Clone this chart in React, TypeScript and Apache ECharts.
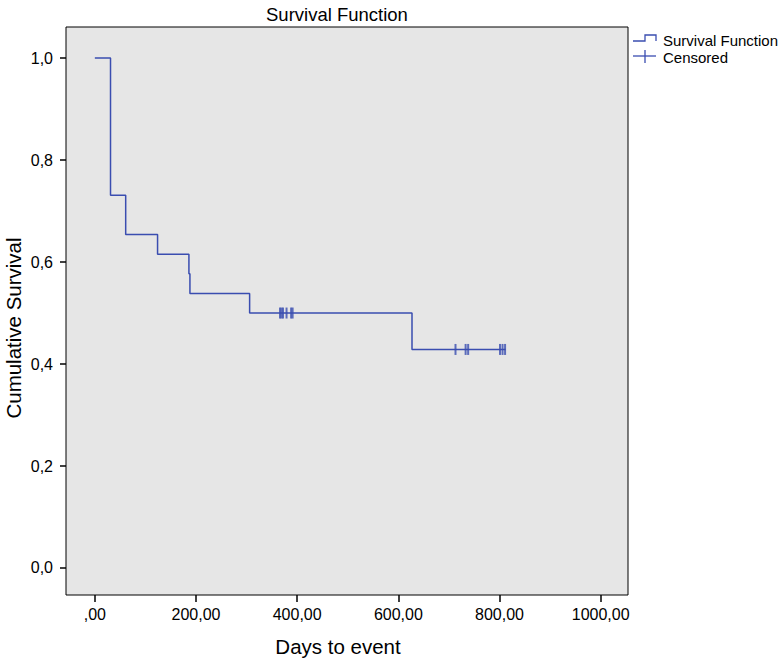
import React, { useEffect, useRef } from "react";
import * as echarts from "echarts";

// Kaplan-Meier step points (day, cumulative survival)
const eventDays = [0, 31, 61, 124, 186, 188, 306, 627, 812];
const survival = [1.0, 0.7308, 0.6538, 0.6154, 0.5769, 0.5385, 0.5, 0.4286, 0.4286];

// Censored observations (day, survival at that time)
const censoredDays = [366, 369, 372, 379, 388, 391, 713, 733, 738, 801, 806, 811];
const censoredSurvival = [0.5, 0.5, 0.5, 0.5, 0.5, 0.5, 0.4286, 0.4286, 0.4286, 0.4286, 0.4286, 0.4286];

const xTicks = [0, 200, 400, 600, 800, 1000];
const yTicks = [0, 0.2, 0.4, 0.6, 0.8, 1.0];

const LINE = "#3a4db0";
const FONT = "Liberation Sans, Arial, Helvetica, sans-serif";

export default function App() {
  const ref = useRef<HTMLDivElement>(null);
  useEffect(() => {
    if (!ref.current) return;
    const chart = echarts.init(ref.current, undefined, { renderer: "svg" });
    chart.setOption({
      animation: false,
      backgroundColor: "#ffffff",
      title: {
        text: "Survival Function",
        left: 261,
        top: 0,
        textStyle: { fontFamily: FONT, fontSize: 18.5, fontWeight: "normal", color: "#000" },
      },
      grid: {
        left: 66,
        right: 152,
        top: 27,
        bottom: 63,
        show: true,
        backgroundColor: "#e6e6e6",
        borderColor: "#000",
        borderWidth: 1,
      },
      xAxis: {
        type: "value",
        min: -57,
        max: 1054,
        axisLine: { show: false, onZero: false },
        splitLine: { show: false },
        axisTick: { show: true, inside: false, length: 7, customValues: xTicks, lineStyle: { color: "#000", width: 1.5 } },
        axisLabel: {
          customValues: xTicks,
          margin: 11,
          fontFamily: FONT,
          fontSize: 16,
          color: "#000",
          formatter: (v: number) => (v === 0 ? ",00" : v.toFixed(2).replace(".", ",")),
        },
      },
      yAxis: {
        type: "value",
        min: -0.053,
        max: 1.061,
        axisLine: { show: false, onZero: false },
        splitLine: { show: false },
        axisTick: { show: true, inside: false, length: 6, customValues: yTicks, lineStyle: { color: "#000", width: 1.5 } },
        axisLabel: {
          customValues: yTicks,
          margin: 13,
          fontFamily: FONT,
          fontSize: 16,
          color: "#000",
          formatter: (v: number) => v.toFixed(1).replace(".", ","),
        },
      },
      graphic: [
        {
          type: "text",
          x: 13,
          y: 328,
          rotation: Math.PI / 2,
          style: { text: "Cumulative Survival", fontFamily: FONT, fontSize: 20.5, fill: "#000", align: "center", verticalAlign: "middle" },
        },
        {
          type: "text",
          x: 338,
          y: 646,
          style: { text: "Days to event", fontFamily: FONT, fontSize: 20.5, fill: "#000", align: "center", verticalAlign: "middle" },
        },
        {
          type: "polyline",
          shape: { points: [[633, 41], [645, 41], [645, 35], [656, 35], [656, 41]] },
          style: { stroke: LINE, lineWidth: 1.3, fill: null },
        },
        {
          type: "text",
          x: 663,
          y: 40,
          style: { text: "Survival Function", fontFamily: FONT, fontSize: 15, fill: "#000", verticalAlign: "middle" },
        },
        {
          type: "line",
          shape: { x1: 633, y1: 56, x2: 656, y2: 56 },
          style: { stroke: LINE, lineWidth: 1.3 },
        },
        {
          type: "line",
          shape: { x1: 645, y1: 50, x2: 645, y2: 63 },
          style: { stroke: LINE, lineWidth: 1.3 },
        },
        {
          type: "text",
          x: 663,
          y: 57,
          style: { text: "Censored", fontFamily: FONT, fontSize: 15, fill: "#000", verticalAlign: "middle" },
        },
      ],
      series: [
        {
          type: "line",
          name: "Survival Function",
          step: "end",
          data: eventDays.map((d, i) => [d, survival[i]]),
          showSymbol: false,
          symbol: "none",
          lineStyle: { color: LINE, width: 1.5 },
        },
        {
          type: "scatter",
          name: "Censored",
          data: censoredDays.map((d, i) => [d, censoredSurvival[i]]),
          symbol: "rect",
          symbolSize: [2, 11],
          itemStyle: { color: LINE },
        },
      ],
    });
    return () => chart.dispose();
  }, []);
  return <div ref={ref} style={{ position: "fixed", left: 0, top: 0, width: 780, height: 658 }} />;
}
